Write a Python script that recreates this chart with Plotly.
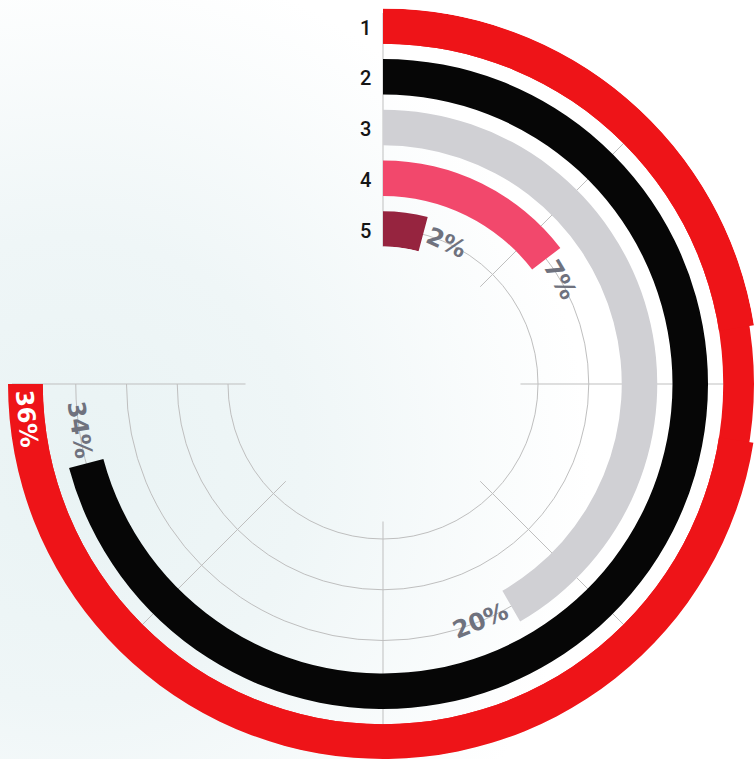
import math
import plotly.graph_objects as go

# Radial bar chart: five ranked shares drawn as concentric arcs
ring_labels = ["1", "2", "3", "4", "5"]
shares = [36, 34, 20, 7, 2]
value_labels = ["36%", "34%", "20%", "7%", "2%"]
bar_colors = ["#ee1418", "#060606", "#d0d0d4", "#f2486c", "#96243f"]

SCALE_MAX = 36      # share that fills the whole sweep
SWEEP = 270         # degrees covered by the angular axis

# ---- geometry (pixels) ----
W, H = 754, 759
CX, CY = 383, 384           # ring centre, measured from the top-left corner
FRAME_R = 371               # radius of the main polar frame
OUTER_R = 375.5             # radius reached by the outermost arc
HOLE_PX = 137.5             # inner empty radius
STEP_PX = 50.75             # distance between ring centres
INNER_RING_PX = 155         # radius of the innermost ring centre
BAND = 0.7                  # bar thickness in ring units

n = len(ring_labels)
ring_pos = [n - i for i in range(n)]          # ring "1" outermost
r_lo = 1 - (INNER_RING_PX - HOLE_PX) / STEP_PX


def to_deg(v):
    return v * SWEEP / SCALE_MAX


def r_to_px(r):
    return INNER_RING_PX + (r - 1) * STEP_PX


def polar_to_paper(r, deg):
    rp = r_to_px(r)
    a = math.radians(deg)
    x = CX + rp * math.sin(a)
    y = CY - rp * math.cos(a)
    return x / W, 1 - y / H


def sector_bbox(a0, a1):
    """Bounding box of a wedge (it always contains the centre)."""
    angs = [a0, a1] + [k * 90 for k in range(-4, 9) if a0 < k * 90 < a1]
    xs = [0.0] + [math.cos(math.radians(a)) for a in angs]
    ys = [0.0] + [math.sin(math.radians(a)) for a in angs]
    return min(xs), max(xs), min(ys), max(ys)


def polar_layout(radius, sector, grid):
    """Polar subplot sharing the same centre and radial scale."""
    x0, x1, y0, y1 = sector_bbox(*sector)
    r_hi = 1 + (radius - INNER_RING_PX) / STEP_PX
    return dict(
        domain=dict(x=[(CX + x0 * radius) / W, min(1.0, (CX + x1 * radius) / W)],
                    y=[(H - CY + y0 * radius) / H, (H - CY + y1 * radius) / H]),
        sector=list(sector),
        hole=HOLE_PX / radius,
        bgcolor="rgba(0,0,0,0)",
        radialaxis=dict(range=[r_lo, r_hi], tickvals=ring_pos,
                        showticklabels=False, ticks="", showline=False,
                        showgrid=grid, gridcolor="#bfbfbf", gridwidth=1.3),
        angularaxis=dict(rotation=90, direction="clockwise",
                         tickmode="linear", tick0=0, dtick=45,
                         showticklabels=False, ticks="", showline=False,
                         showgrid=grid, gridcolor="#bfbfbf", gridwidth=1.3),
    )


fig = go.Figure()

# soft radial backdrop
GX, GY, GR = 70, 470, 520
fig.add_trace(go.Scatter(
    x=[GX - GR, GX + GR, GX + GR, GX - GR, GX - GR],
    y=[GY - GR, GY - GR, GY + GR, GY + GR, GY - GR],
    fill="toself", mode="none", hoverinfo="skip",
    fillgradient=dict(type="radial",
                      colorscale=[[0, "#e9f3f4"], [0.45, "#eff6f7"], [1, "#ffffff"]]),
    showlegend=False,
))

# arcs
degs = [to_deg(v) for v in shares]
fig.add_trace(go.Barpolar(
    r=[BAND] * n,
    base=[p - BAND / 2 for p in ring_pos],
    theta=[d / 2 for d in degs],
    width=degs,
    marker=dict(color=bar_colors, line=dict(width=0)),
    hoverinfo="skip", showlegend=False, subplot="polar",
))

# the outermost arc runs past the main frame; two extra sectors carry it
for sp in ["polar2", "polar3"]:
    fig.add_trace(go.Barpolar(
        r=[BAND], base=[ring_pos[0] - BAND / 2],
        theta=[degs[0] / 2], width=[degs[0]],
        marker=dict(color=bar_colors[0], line=dict(width=0)),
        hoverinfo="skip", showlegend=False, subplot=sp,
    ))

# ring numbers beside the 0° spoke
for p, lab in zip(ring_pos, ring_labels):
    y = CY - r_to_px(p) + 1.5
    fig.add_annotation(
        x=(CX - 10) / W, y=1 - y / H, xref="paper", yref="paper",
        text=lab, showarrow=False, xanchor="right", yanchor="middle",
        font=dict(family="Roboto", size=20, weight=500, color="#151515"),
    )

# value labels following the arcs
CHAR_PX = 9.6
GAP_PX = 6
for i, (p, d, lab) in enumerate(zip(ring_pos, degs, value_labels)):
    rp = r_to_px(p)
    off = math.degrees((GAP_PX + CHAR_PX * len(lab)) / rp)
    inside = i == 0
    ang = d - off if inside else d + off
    x, y = polar_to_paper(p, ang)
    tangle = ang - 180 if 90 < ang < 270 else ang
    fig.add_annotation(
        x=x, y=y, xref="paper", yref="paper",
        text=lab, showarrow=False, textangle=tangle,
        xanchor="center", yanchor="middle",
        font=dict(family="DejaVu Sans", size=24, weight="bold",
                  color="#ffffff" if inside else "#6f727e"),
    )

fig.update_layout(
    width=W, height=H,
    margin=dict(l=0, r=0, t=0, b=0),
    paper_bgcolor="#ffffff",
    plot_bgcolor="rgba(0,0,0,0)",
    showlegend=False,
    xaxis=dict(range=[0, W], visible=False, fixedrange=True, domain=[0, 1]),
    yaxis=dict(range=[H, 0], visible=False, fixedrange=True, domain=[0, 1]),
    polar=polar_layout(FRAME_R, (180, 450), True),
    polar2=polar_layout(min(OUTER_R, H - CY), (180, 351), False),
    polar3=polar_layout(OUTER_R, (9, 90), False),
)

fig.write_html("out.html")
